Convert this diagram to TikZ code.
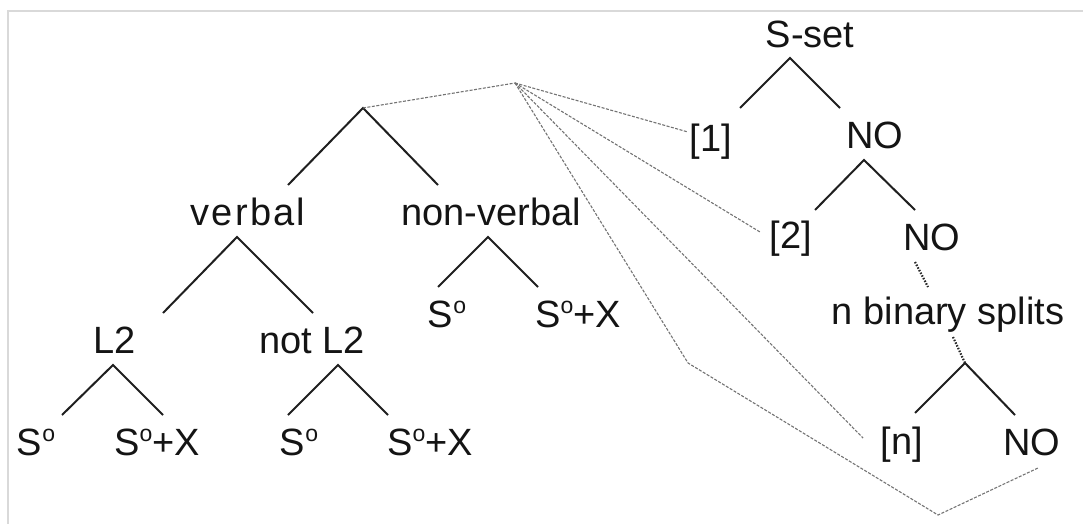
\documentclass[tikz,border=0pt]{standalone}
\usepackage{fontspec}
\setmainfont{Liberation Sans}
\newfontfamily\spacedfont[LetterSpace=6]{Liberation Sans}
\newcommand\ordo{\raisebox{14pt}{\fontsize{23pt}{23pt}\selectfont o}}
\begin{document}
\begin{tikzpicture}[x=1pt,y=-1pt,
 lbl/.style={anchor=base,inner sep=0pt,font=\fontsize{38pt}{40pt}\selectfont,text=black!92},
 spaced/.style={font=\fontsize{38pt}{40pt}\spacedfont},
 branch/.style={line width=2pt,draw=black!88},
 link/.style={draw=black!55,line width=1.1pt,dash pattern=on 3pt off 1.5pt},
 dots/.style={draw=black!85,line width=2.2pt,dash pattern=on 1.5pt off 1.5pt},
 frame/.style={draw=black!15,line width=2.5pt}]
\useasboundingbox (0,0) rectangle (1083,524);
\draw[frame] (8,524) -- (8,11) -- (1083,11);
% labels
\node[lbl] (sset) at (810,48) {S-set};
\node[lbl] (one) at (711,151) {[1]};
\node[lbl] (no1) at (875,148) {NO};
\node[lbl] (two) at (791,248) {[2]};
\node[lbl] (no2) at (932,250) {NO};
\node[lbl] (nbin) at (948,324) {n binary splits};
\node[lbl] (nn) at (902,454) {[n]};
\node[lbl] (no3) at (1032,455) {NO};
\node[lbl,spaced] (verbal) at (248,225) {verbal};
\node[lbl] (nonverbal) at (491,225) {non-verbal};
\node[lbl] (nvs) at (447,327) {S\ordo};
\node[lbl] (nvsx) at (578,327) {S\ordo+X};
\node[lbl] (ltwo) at (115,353) {L2};
\node[lbl] (notltwo) at (312,353) {not L2};
\node[lbl] (as) at (36,455) {S\ordo};
\node[lbl] (asx) at (157,455) {S\ordo+X};
\node[lbl] (bs) at (299,455) {S\ordo};
\node[lbl] (bsx) at (430,455) {S\ordo+X};
% tree points
\coordinate (top) at (363,108);
\coordinate (topL) at (288,185);
\coordinate (topR) at (438,185);
\coordinate (vA) at (237,237);
\coordinate (vL) at (163,313);
\coordinate (vR) at (313,313);
\coordinate (nvA) at (488,237);
\coordinate (nvL) at (438,287);
\coordinate (nvR) at (538,287);
\coordinate (lA) at (113,365);
\coordinate (lL) at (62,415);
\coordinate (lR) at (163,415);
\coordinate (nlA) at (338,365);
\coordinate (nlL) at (288,415);
\coordinate (nlR) at (388,415);
\coordinate (sA) at (790,58);
\coordinate (sL) at (740,108);
\coordinate (sR) at (840,108);
\coordinate (oA) at (864,160);
\coordinate (oL) at (815,210);
\coordinate (oR) at (915,210);
\coordinate (bA) at (965,363);
\coordinate (bL) at (915,413);
\coordinate (bR) at (1015,415);
\coordinate (d1a) at (915,262);
\coordinate (d1b) at (928,287);
\coordinate (d2a) at (953,337);
% links
\coordinate (hub) at (515,83);
\coordinate (e1) at (688,132);
\coordinate (e2) at (760,232);
\coordinate (en) at (863,438);
\coordinate (k1) at (688,363);
\coordinate (k2) at (938,515);
\coordinate (k3) at (1038,468);
% branches
\draw[branch] (topL) -- (top) -- (topR);
\draw[branch] (vL) -- (vA) -- (vR);
\draw[branch] (nvL) -- (nvA) -- (nvR);
\draw[branch] (lL) -- (lA) -- (lR);
\draw[branch] (nlL) -- (nlA) -- (nlR);
\draw[branch] (sL) -- (sA) -- (sR);
\draw[branch] (oL) -- (oA) -- (oR);
\draw[branch] (bL) -- (bA) -- (bR);
\draw[dots] (d1a) -- (d1b);
\draw[dots] (d2a) -- (bA);
% dashed links
\draw[link] (top) -- (hub);
\draw[link] (hub) -- (e1);
\draw[link] (hub) -- (e2);
\draw[link] (hub) -- (en);
\draw[link] (hub) -- (k1) -- (k2) -- (k3);
\end{tikzpicture}
\end{document}
